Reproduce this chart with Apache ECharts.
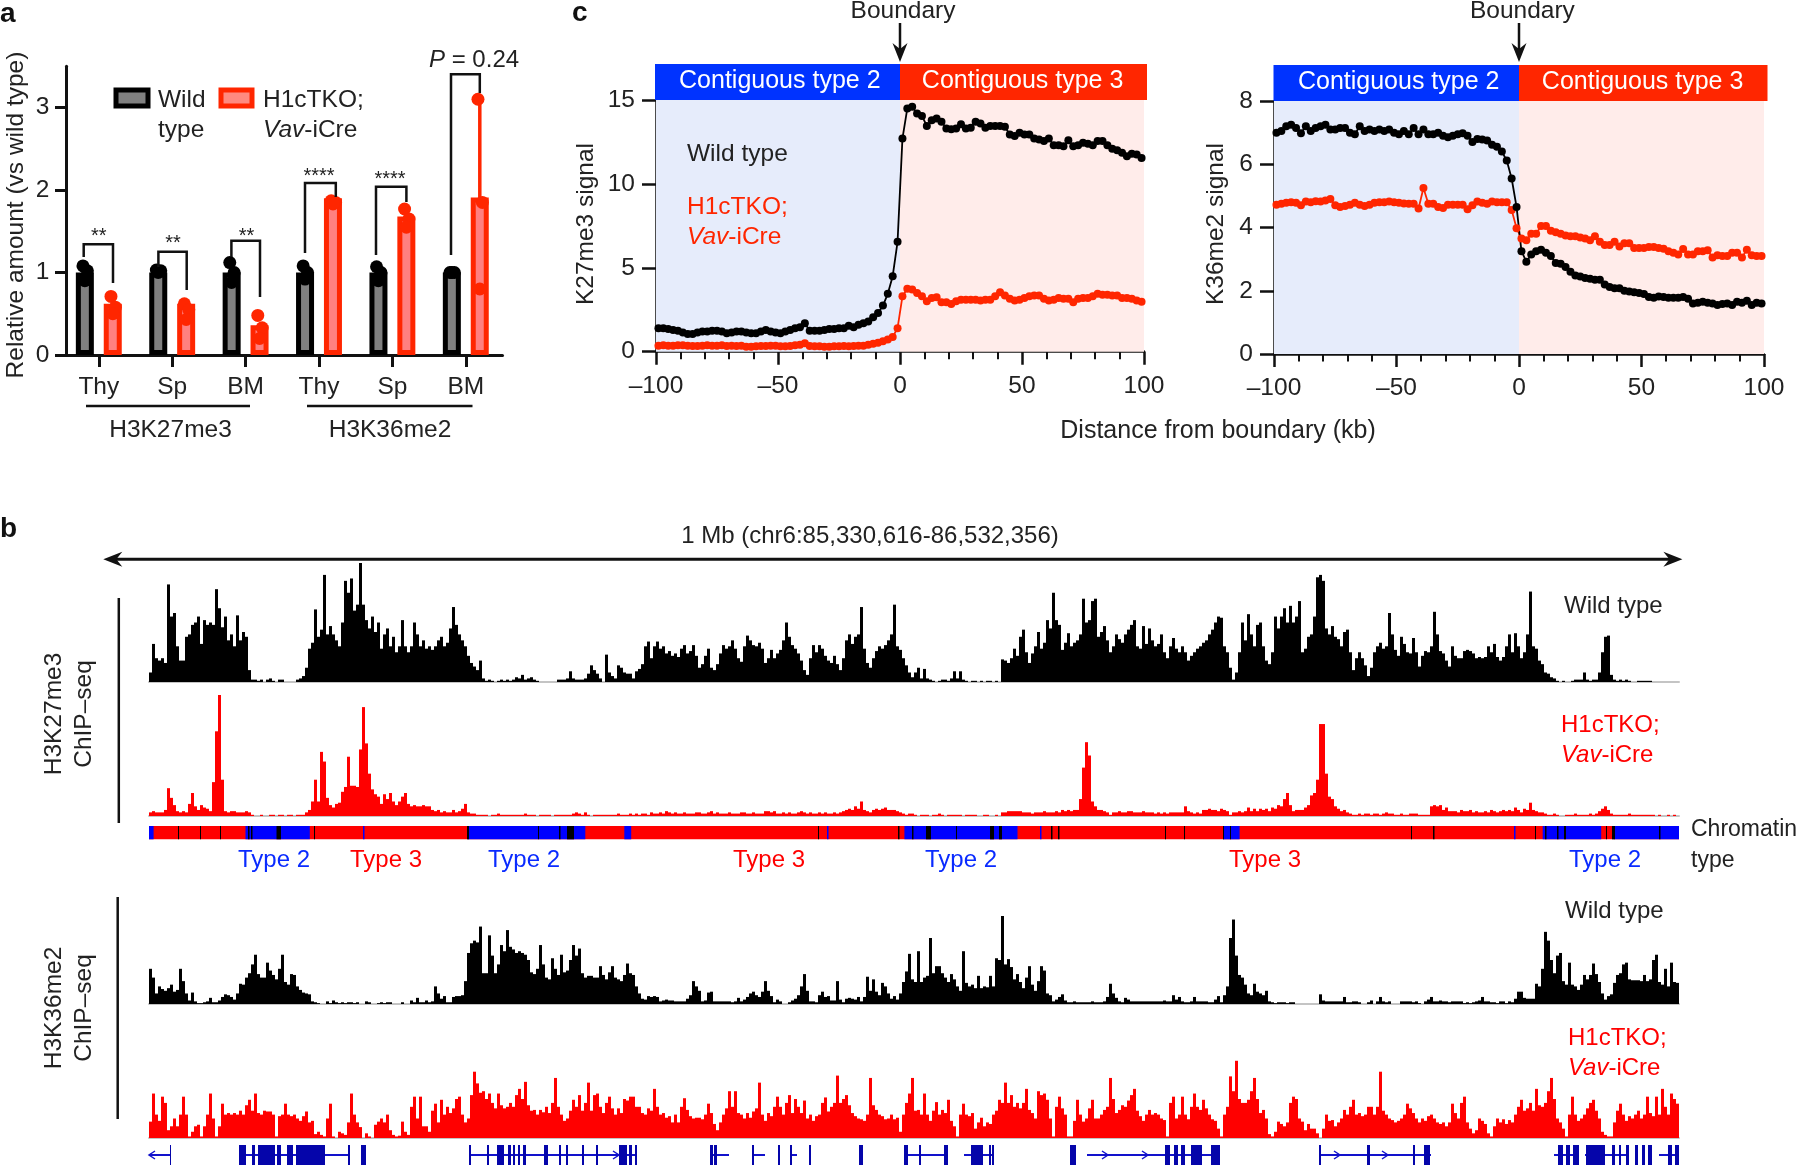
<!DOCTYPE html>
<html>
<head>
<meta charset="utf-8">
<style>
    html, body { margin: 0; padding: 0; background: #fff; }
    #main { width: 1800px; height: 1166px; }
</style>
<script src="https://cdn.jsdelivr.net/npm/echarts@6/dist/echarts.min.js"></script>
</head>
<body>
<div id="main"></div>
<script>
// panel a
var tissues = ['Thy', 'Sp', 'BM', 'Thy', 'Sp', 'BM'];
var wildMean = [1, 1, 1, 1, 1, 1];
var koMean = [0.62, 0.62, 0.36, 1.9, 1.68, 1.91];
var wildDots = [[1.08, 1.02, 0.9], [1.03, 1.02, 1.0], [1.12, 1.0, 0.88], [1.08, 1.0, 0.92], [1.07, 1.0, 0.9], [1.0, 1.0, 1.0]];
var koDots = [[0.71, 0.58, 0.5], [0.62, 0.55, 0.43], [0.48, 0.33, 0.2], [1.87, 1.85, 1.83], [1.77, 1.65, 1.55], [3.1, 1.85, 0.8]];

// panel c, bins every 2 kb
var k27Wild = [1.4,1.4,1.35,1.3,1.25,1.15,1.05,1.05,1.15,1.2,
    1.2,1.25,1.25,1.2,1.1,1.15,1.2,1.2,1.15,1.1,
    1.1,1.2,1.3,1.2,1.15,1.1,1.2,1.3,1.4,1.45,
    1.7,1.25,1.25,1.25,1.3,1.35,1.35,1.4,1.4,1.55,
    1.45,1.6,1.7,1.8,2.05,2.3,2.75,3.45,4.5,6.55,
    12.7,14.5,14.6,14.2,14.05,13.45,13.8,13.9,13.7,13.3,
    13.25,13.3,13.55,13.3,13.35,13.7,13.6,13.35,13.45,13.45,
    13.45,13.4,12.95,12.85,13.05,12.95,12.95,12.7,12.65,12.55,
    12.7,12.3,12.3,12.25,12.6,12.25,12.3,12.45,12.4,12.3,
    12.55,12.55,12.3,12.1,12,11.85,11.65,11.8,11.75,11.55];
var k27Ko = [.35,.38,.36,.36,.38,.38,.36,.34,.34,.36,
    .38,.36,.36,.38,.34,.36,.34,.36,.3,.3,
    .32,.34,.34,.36,.36,.32,.32,.34,.38,.42,
    .5,.34,.32,.32,.3,.3,.32,.32,.34,.32,
    .34,.36,.36,.42,.48,.54,.62,.72,.88,1.4,
    3.3,3.75,3.7,3.5,3.3,3.0,3.2,3.25,2.95,2.95,
    2.85,3.0,3.1,3.1,3.1,3.1,3.05,3.1,3.1,3.3,
    3.55,3.35,3.15,3.05,3.1,3.2,3.3,3.35,3.35,3.15,
    3.05,3.1,3.2,3.15,3.15,2.95,3.15,3.2,3.2,3.3,
    3.45,3.4,3.4,3.35,3.35,3.2,3.2,3.15,3.05,2.98];
var k36Wild = [7.0,7.05,7.2,7.25,7.15,6.98,7.2,7.05,7.15,7.2,
    7.25,7.1,7.1,7.15,7.15,7.0,6.95,7.2,7.05,7.1,
    7.05,7.1,7.05,7.1,7.0,6.95,7.05,6.95,7.15,6.95,
    7.1,6.95,6.95,7.0,6.9,6.85,6.9,6.95,6.98,6.9,
    6.7,6.8,6.78,6.75,6.62,6.55,6.4,6.12,5.55,4.65,
    3.25,2.92,3.15,3.25,3.3,3.2,3.1,2.88,2.85,2.75,
    2.6,2.48,2.45,2.4,2.38,2.35,2.35,2.2,2.12,2.08,
    2.08,2.0,1.98,1.95,1.93,1.9,1.8,1.78,1.82,1.8,
    1.78,1.78,1.78,1.8,1.75,1.6,1.62,1.65,1.62,1.6,
    1.55,1.58,1.6,1.55,1.65,1.62,1.68,1.55,1.62,1.6];
var k36Ko = [4.72,4.75,4.78,4.8,4.78,4.7,4.82,4.8,4.83,4.82,
    4.85,4.9,4.7,4.65,4.68,4.72,4.78,4.72,4.68,4.72,
    4.78,4.8,4.8,4.82,4.8,4.78,4.76,4.75,4.75,4.6,
    5.25,4.75,4.75,4.65,4.62,4.72,4.72,4.72,4.72,4.58,
    4.7,4.82,4.78,4.75,4.82,4.8,4.8,4.8,4.55,3.98,
    3.65,3.6,3.8,3.8,4.05,4.05,3.9,3.85,3.8,3.75,
    3.72,3.72,3.68,3.65,3.6,3.72,3.55,3.45,3.45,3.55,
    3.4,3.5,3.5,3.35,3.35,3.35,3.38,3.38,3.35,3.33,
    3.25,3.2,3.15,3.32,3.15,3.15,3.25,3.25,3.28,3.05,
    3.12,3.1,3.1,3.2,3.2,3.05,3.3,3.12,3.1,3.1];

// panel b, signal per 3 px bin, % of the track's tallest peak
var trackK27Wild = [8,32,20,18,20,16,82,55,58,30,18,18,38,40,48,50,55,32,52,48,
    50,48,78,62,46,55,35,40,30,56,35,42,38,10,2,2,1,2,0,2,3,1,0,2,2,0,0,0,0,2,
    3,5,12,28,33,61,38,44,90,40,47,40,35,30,50,85,75,87,60,65,100,65,52,45,55,42,50,28,40,45,
    30,38,25,30,52,30,25,30,50,40,30,35,28,30,27,30,35,38,30,33,45,63,48,40,35,30,22,16,13,10,
    18,3,1,2,1,0,1,2,1,2,1,2,4,3,6,2,3,4,2,1,0,0,0,0,0,0,2,2,2,3,9,3,2,2,2,3,7,14,10,7,
    3,0,23,8,5,3,14,12,8,7,7,3,9,11,15,30,34,20,30,34,28,30,24,26,22,24,21,28,31,24,
    26,31,22,12,15,22,28,12,10,15,24,31,28,30,35,28,20,17,30,39,35,31,30,33,28,16,20,27,20,24,
    27,35,50,38,31,28,24,18,10,6,20,31,25,31,28,22,18,16,22,15,10,20,35,40,32,38,40,63,28,16,
    12,20,26,30,28,31,35,40,65,30,
    27,20,14,8,4,8,12,3,11,3,2,1,0,1,2,2,1,3,9,3,9,2,1,0,1,1,0,1,0,1,1,0,1,0,19,18,16,20,28,22,
    38,44,25,16,24,30,42,28,33,52,45,75,52,48,27,33,41,30,33,35,40,70,50,52,68,70,38,42,47,35,
    25,30,40,36,33,40,44,48,52,30,28,47,32,45,35,30,32,40,25,20,30,37,28,25,30,25,18,22,25,28,
    30,33,35,40,44,50,55,54,30,25,12,2,8,25,50,35,57,40,30,48,50,30,18,15,25,55,45,55,62,50,
    64,50,55,68,25,28,38,40,55,88,90,85,45,40,47,38,36,30,42,44,25,10,20,25,20,14,5,12,25,30,
    33,28,30,58,40,27,22,38,32,25,24,37,25,13,22,26,25,30,59,40,26,24,18,13,30,22,20,20,26,27,
    26,24,20,21,20,21,30,25,32,21,18,21,30,40,25,41,30,20,25,40,76,30,28,18,15,8,7,4,3,1,
    0,1,0,0,1,2,2,2,8,2,1,2,2,8,25,38,39,6,2,1,2,1,2,1,0,0,1,1,1,1,1,0,0,0,0,0,0,0,0,0];
var trackK27Ko = [3,4,3,3,3,5,23,15,9,4,3,4,3,10,19,8,5,9,7,6,4,28,70,100,30,4,3,4,4,3,
    3,3,4,3,1,0,0,1,0,0,1,1,0,1,1,0,1,1,0,1,1,1,3,5,12,30,12,53,45,15,9,7,10,11,20,24,49,25,25,24,
    55,90,60,35,22,18,16,10,18,14,19,12,9,12,16,19,10,8,9,8,8,9,8,8,5,4,5,3,4,3,
    3,5,3,4,6,10,3,2,2,1,1,1,1,0,1,1,2,1,1,1,1,1,1,1,1,2,1,1,1,0,1,1,1,1,0,1,1,1,1,1,
    1,2,3,2,1,3,1,0,1,1,1,1,1,1,1,1,2,1,1,1,2,1,2,1,2,2,1,3,2,2,3,2,4,3,2,3,2,2,3,2,
    2,2,3,3,2,2,3,4,2,3,2,2,2,3,2,2,2,3,3,2,2,3,2,2,2,4,4,3,4,2,2,3,2,3,2,2,3,4,3,2,
    3,2,2,3,2,3,2,2,3,2,3,4,5,6,5,8,6,12,5,4,3,5,6,5,6,7,5,5,5,4,
    3,2,1,2,2,1,0,1,1,1,0,1,1,2,1,0,1,1,1,1,1,0,1,1,1,1,0,0,1,1,0,0,1,0,3,3,4,4,4,4,
    4,3,3,3,2,3,3,3,4,3,3,3,4,3,5,4,5,4,5,5,14,40,61,50,12,8,5,5,4,3,1,3,3,4,3,3,4,4,3,3,
    3,4,3,3,3,2,3,2,3,2,3,3,3,3,3,8,4,3,2,3,2,5,5,6,5,5,4,6,5,4,1,3,3,4,3,4,7,4,6,4,
    6,5,6,4,7,6,9,8,14,19,9,4,5,5,5,7,9,17,19,30,76,76,35,16,14,8,6,4,5,3,2,1,1,2,1,2,2,1,2,2,
    1,2,3,2,2,1,1,2,1,1,2,2,2,1,1,1,1,8,9,8,9,5,7,4,4,4,3,5,4,4,5,3,4,3,3,4,3,5,4,3,
    4,5,4,5,4,7,5,3,6,5,11,5,4,3,3,2,1,1,2,1,0,0,1,1,1,2,1,1,1,1,2,1,2,4,6,8,5,2,1,1,
    1,1,1,2,1,1,1,1,1,1,1,1,0,1,0,0,1,0,1,0];
var trackK36Wild = [40,30,12,20,17,15,18,22,14,16,40,26,12,4,13,3,1,1,2,3,7,2,2,4,8,11,10,8,5,12,
    23,22,30,35,45,56,34,30,30,47,38,33,28,40,56,25,22,34,33,20,16,13,12,11,3,2,1,0,0,3,
    1,4,2,1,2,1,2,2,1,2,0,0,3,2,0,0,1,2,1,2,2,0,0,0,2,0,0,4,2,7,2,2,4,2,3,20,12,6,9,2,
    2,8,9,9,10,26,58,69,72,70,88,35,35,78,55,35,45,67,60,84,65,62,58,60,58,56,50,36,34,40,
    67,45,30,28,52,40,33,56,36,38,50,67,55,63,35,30,32,32,30,30,43,33,28,36,43,30,28,26,33,46,
    35,33,20,12,6,5,9,8,9,8,3,4,5,4,4,3,3,3,3,6,10,26,20,15,3,4,13,14,3,3,3,3,3,3,2,3,7,3,5,8,
    12,14,10,8,14,26,15,9,2,5,3,0,0,2,4,6,10,20,34,15,3,3,2,10,14,8,9,4,4,26,5,2,6,7,6,5,8,3,8,31,
    15,28,14,10,24,20,12,6,9,5,
    12,25,37,57,28,25,60,25,30,32,75,35,43,43,35,30,25,34,28,20,15,60,24,20,22,18,32,18,20,19,
    32,20,52,50,100,45,51,42,28,34,25,18,30,43,22,15,26,43,38,12,10,3,5,8,11,4,2,2,3,2,
    2,2,2,2,3,2,2,2,3,8,23,12,7,3,2,7,5,3,3,3,3,3,3,3,3,3,3,3,4,3,3,10,5,8,3,2,2,3,8,3,
    3,3,3,2,2,5,9,2,10,20,75,96,55,33,30,22,12,10,23,14,12,10,15,3,2,1,2,2,2,1,2,2,0,0,0,0,0,0,0,0,
    11,4,3,3,3,3,3,3,8,2,2,3,3,2,0,0,2,4,0,3,8,3,2,3,0,0,0,3,3,3,3,2,3,1,0,3,5,8,3,3,
    4,3,3,2,3,3,3,3,1,2,1,2,3,4,8,3,3,2,2,1,3,3,1,3,2,6,14,14,7,6,6,6,23,20,40,82,72,50,35,55,
    58,26,22,47,22,20,16,22,33,28,33,46,34,25,12,5,9,11,24,33,35,45,47,28,27,27,27,26,33,26,
    28,50,56,25,22,40,20,47,25,24];
var trackK36Ko = [21,57,30,22,53,45,10,15,25,15,30,53,30,2,8,15,17,2,15,30,57,25,2,15,44,30,32,30,32,30,
    35,30,42,49,35,57,32,30,35,34,34,30,2,28,30,44,30,28,30,25,22,28,34,20,22,5,8,4,2,25,
    44,2,0,8,6,4,20,57,30,20,14,0,6,2,0,17,21,25,20,30,10,4,2,3,21,8,4,40,53,25,
    53,15,15,8,35,44,20,49,30,40,32,38,50,53,30,20,25,55,85,70,58,60,50,57,45,38,57,42,38,40,
    45,40,55,63,50,72,42,35,36,30,36,33,40,32,45,77,40,30,22,25,35,49,40,55,35,45,71,35,55,57,
    40,32,45,53,38,30,38,32,50,48,53,53,40,40,32,30,38,35,63,40,30,32,26,28,20,30,20,40,51,36,
    28,25,26,26,24,30,44,32,18,10,20,30,38,60,40,60,32,30,25,32,26,34,38,71,30,22,32,28,40,53,
    40,30,45,55,32,50,40,32,48,25,30,22,28,30,45,52,34,40,45,80,45,50,55,42,32,28,25,24,22,30,
    77,42,36,30,28,24,25,30,24,26,
    8,30,45,57,77,35,36,30,57,30,22,35,46,30,36,32,49,22,15,2,30,44,30,28,32,12,20,26,15,20,
    18,30,35,49,45,71,45,55,40,45,38,45,63,36,32,25,60,55,57,49,25,2,40,53,38,30,2,2,22,49,
    30,21,25,38,49,25,25,30,36,40,77,50,32,36,42,40,48,55,63,35,28,22,30,36,30,32,30,25,23,2,
    45,53,25,30,53,30,24,40,57,40,36,49,38,30,24,22,12,2,30,40,79,60,99,50,45,45,49,60,77,50,
    32,36,25,5,2,8,21,18,15,20,45,53,50,25,21,10,18,12,12,6,0,12,30,22,23,15,20,25,36,30,
    40,49,30,32,28,30,40,40,30,40,85,35,30,25,23,20,22,25,30,44,38,32,25,20,25,22,28,30,25,20,
    18,20,15,20,44,32,25,45,53,20,12,6,10,25,22,18,6,2,15,25,20,24,18,23,20,30,40,49,35,38,
    45,35,63,42,40,45,60,77,50,25,20,12,2,30,53,30,22,25,30,38,45,49,35,25,8,4,2,2,20,35,
    44,30,22,28,25,30,35,25,30,53,32,28,53,30,63,40,30,57,50,44];

// chromatin type segments [from, to, type], position along the 1530 px wide track, 0 = no type
var chromSegments = [
    [0, 1530, 3],
    [0, 4.6, 2], [96.5, 160.8, 2], [318.6, 436.3, 2], [475.3, 482.2, 2], [755.4, 868.5, 2], [1074, 1090.6, 2], [1393.7, 1452.2, 2], [1465.4, 1530, 2],
    [214, 215.5, 2], [678, 679.5, 2], [891, 892.5, 2], [1365, 1366.5, 2],
    [29, 30, 0], [51, 52, 0], [71, 72, 0], [99, 100.5, 0], [102, 103.5, 0], [127.5, 132, 0], [165, 166, 0], [318, 320, 0],
    [389, 390, 0], [410, 411.5, 0], [418, 425, 0], [669, 670, 0], [749, 750.5, 0], [763, 764.5, 0], [777, 782, 0], [807, 808, 0],
    [841, 845, 0], [850, 853, 0], [902, 903.5, 0], [909, 910.5, 0], [1016, 1017, 0], [1035, 1036, 0], [1074, 1075, 0], [1081, 1082, 0],
    [1262, 1263, 0], [1284, 1285.5, 0], [1386, 1387, 0], [1396, 1397.5, 0], [1408, 1409.5, 0], [1415, 1417, 0], [1457, 1458, 0], [1463, 1466, 0], [1510, 1511.5, 0]
];
// gene models, same position scale
var geneLines = [[0, 21], [90, 200], [320, 487], [561, 580], [604, 616], [642, 648], [759, 797], [815, 845], [938, 1018], [1020, 1070], [1170, 1282], [1405, 1429], [1436, 1480], [1510, 1530]];
var geneExons = [[21, 22], [90, 97], [103, 106], [109, 120], [120, 126], [128, 132], [138, 144], [147, 163], [163, 176], [199, 201], [212, 217],
    [320, 322], [338, 340], [348, 355], [359, 362], [364, 366], [369, 371], [374, 377], [395, 399], [410, 412], [417, 419], [433, 435], [447, 449], [470, 478], [480, 483], [486, 488],
    [561, 564], [565, 568], [603, 605], [629, 631], [641, 643], [660, 662], [710, 714],
    [755, 759], [770, 772], [795, 799], [822, 834], [840, 842], [843, 845], [921, 927],
    [1016, 1021], [1025, 1029], [1032, 1036], [1042, 1053], [1062, 1071],
    [1170, 1172], [1218, 1221], [1264, 1266], [1275, 1281],
    [1409, 1414], [1417, 1421], [1424, 1430], [1437, 1443], [1443, 1456], [1463, 1466], [1470, 1472], [1477, 1480], [1486, 1489], [1493, 1496], [1499, 1503], [1519, 1523], [1526, 1530]];
var geneArrows = [[3, -1], [467, 1], [956, 1], [996, 1], [1188, 1], [1236, 1]];

var sans = '"Liberation Sans", Arial, sans-serif';
var textColor = '#222';
var red = '#ff2600';
var fontSize = 24.5;
var kbBins = [];
for (var b = 0; b < k27Wild.length; b++) {
    kbBins.push(-99 + 2 * b);
}

function zip(xs, ys) {
    return ys.map(function (y, i) { return [xs[i], y]; });
}

// text helper, rich tag i is for the italic parts
function label(text, x, y, opt) {
    opt = opt || {};
    // glyphs sit a bit high with middle align, push them down
    var nudge = opt.nudge === undefined ? 2.5 : opt.nudge;
    return {
        type: 'text',
        x: opt.rotation ? x + nudge : x,
        y: opt.rotation ? y : y + nudge,
        z: 100,
        rotation: opt.rotation || 0,
        silent: true,
        style: {
            text: text,
            fontFamily: sans,
            fontSize: opt.size || fontSize,
            fontWeight: opt.weight || 'normal',
            fill: opt.color || textColor,
            align: opt.align || 'left',
            verticalAlign: 'middle',
            rich: {
                i: { fontFamily: sans, fontSize: opt.size || fontSize, fontStyle: 'italic', fill: opt.color || textColor }
            }
        }
    };
}

function poly(points, width, color) {
    return {
        type: 'polyline',
        z: 100,
        silent: true,
        shape: { points: points },
        style: { stroke: color || '#111', lineWidth: width || 2.5, fill: null }
    };
}

function box(x, y, w, h, fill, stroke, lineWidth) {
    return {
        type: 'rect',
        z: 100,
        silent: true,
        shape: { x: x, y: y, width: w, height: h },
        style: { fill: fill, stroke: stroke || null, lineWidth: lineWidth || 0 }
    };
}

function arrowHead(tipX, tipY, dx, dy) {
    // filled head, dx/dy is the direction it points
    var px = -dy, py = dx;
    return {
        type: 'polygon',
        z: 100,
        silent: true,
        shape: {
            points: [
                [tipX, tipY],
                [tipX - dx * 19 + px * 7.5, tipY - dy * 19 + py * 7.5],
                [tipX - dx * 13, tipY - dy * 13],
                [tipX - dx * 19 - px * 7.5, tipY - dy * 19 - py * 7.5]
            ]
        },
        style: { fill: '#111' }
    };
}

var graphics = [];

// panel letters
graphics.push(label('a', 0, 14, { size: 28, weight: 'bold', color: '#111', nudge: 0 }));
graphics.push(label('b', 0, 529, { size: 28, weight: 'bold', color: '#111', nudge: 0 }));
graphics.push(label('c', 572, 13, { size: 28, weight: 'bold', color: '#111', nudge: 0 }));

// panel a annotations
graphics.push(label('Relative amount (vs wild type)', 14, 215, { rotation: Math.PI / 2, align: 'center' }));
graphics.push(box(116, 90, 32, 16, '#808080', '#000', 5));
graphics.push(box(221, 90, 31, 16, '#ff8a80', red, 5));
graphics.push(label('Wild', 158, 98));
graphics.push(label('type', 158, 128));
graphics.push(label('H1cTKO;', 263, 98));
graphics.push(label('{i|Vav}-iCre', 263, 128));
graphics.push(label('{i|P} = 0.24', 429, 58, { size: 24 }));
[[83.7, 257, 244.3, 113, 283, '**', 98.8, 236],
 [158.4, 267, 251.7, 186.7, 290, '**', 173, 243],
 [231.4, 257, 240.7, 260, 297, '**', 246.6, 236],
 [305, 253, 183, 335.8, 197, '****', 319, 176],
 [376, 255, 186.7, 406.4, 202, '****', 390, 179]].forEach(function (br) {
    graphics.push(poly([[br[0], br[1]], [br[0], br[2]], [br[3], br[2]], [br[3], br[4]]], 2.5));
    graphics.push(label(br[5], br[6], br[7], { size: 20, align: 'center', nudge: 0 }));
});
graphics.push(poly([[451, 255], [451, 74.3], [479.8, 74.3], [479.8, 93]], 2.5));
graphics.push(poly([[86, 406], [250, 406]], 2.5));
graphics.push(poly([[307, 406], [472.5, 406]], 2.5));
graphics.push(label('H3K27me3', 170.5, 428, { align: 'center' }));
graphics.push(label('H3K36me2', 390, 428, { align: 'center' }));

// panel c headers
[[655, 900, 1147, 64, 36, 779.8, 1022.6], [1273.5, 1519, 1767.5, 65, 36, 1398.7, 1642.6]].forEach(function (h) {
    graphics.push(box(h[0], h[3], h[1] - h[0], h[4], '#0033ff'));
    graphics.push(box(h[1], h[3], h[2] - h[1], h[4], red));
    graphics.push(label('Contiguous type 2', h[5], h[3] + 15, { align: 'center', color: '#fff', size: 25 }));
    graphics.push(label('Contiguous type 3', h[6], h[3] + 15, { align: 'center', color: '#fff', size: 25 }));
});
[[900, 903], [1519, 1522.4]].forEach(function (a) {
    graphics.push(poly([[a[0], 23], [a[0], 50]], 2.5));
    graphics.push(arrowHead(a[0], 62, 0, 1));
    graphics.push(label('Boundary', a[1], 9, { align: 'center' }));
});
graphics.push(label('K27me3 signal', 584, 224, { rotation: Math.PI / 2, align: 'center' }));
graphics.push(label('K36me2 signal', 1214, 224, { rotation: Math.PI / 2, align: 'center' }));
graphics.push(label('Wild type', 687, 152));
graphics.push(label('H1cTKO;', 687, 205, { color: red }));
graphics.push(label('{i|Vav}-iCre', 687, 235, { color: red }));
graphics.push(label('Distance from boundary (kb)', 1218, 429, { align: 'center', size: 25 }));

// panel b annotations
graphics.push(label('1 Mb (chr6:85,330,616-86,532,356)', 870, 534, { align: 'center', size: 24 }));
graphics.push(poly([[115, 559.3], [1670, 559.3]], 3));
graphics.push(arrowHead(103.3, 559.3, -1, 0));
graphics.push(arrowHead(1682.4, 559.3, 1, 0));
graphics.push(poly([[118.8, 598], [118.8, 823]], 2.5));
graphics.push(poly([[117.7, 897], [117.7, 1119]], 2.5));
graphics.push(label('H3K27me3', 52, 714, { rotation: Math.PI / 2, align: 'center' }));
graphics.push(label('ChIP\u2013seq', 82, 714, { rotation: Math.PI / 2, align: 'center' }));
graphics.push(label('H3K36me2', 52, 1008, { rotation: Math.PI / 2, align: 'center' }));
graphics.push(label('ChIP\u2013seq', 82, 1008, { rotation: Math.PI / 2, align: 'center' }));
graphics.push(label('Wild type', 1564, 604, { size: 24 }));
graphics.push(label('H1cTKO;', 1561, 723, { color: '#ff0000', size: 24 }));
graphics.push(label('{i|Vav}-iCre', 1561, 753, { color: '#ff0000', size: 24 }));
graphics.push(label('Chromatin', 1691, 827, { size: 23 }));
graphics.push(label('type', 1691, 858, { size: 23 }));
graphics.push(label('Wild type', 1565, 909, { size: 24 }));
graphics.push(label('H1cTKO;', 1568, 1036, { color: '#ff0000', size: 24 }));
graphics.push(label('{i|Vav}-iCre', 1568, 1066, { color: '#ff0000', size: 24 }));
[['Type 2', 274, '#0a2bff'], ['Type 3', 386, '#ff0000'], ['Type 2', 524, '#0a2bff'], ['Type 3', 769, '#ff0000'],
 ['Type 2', 961, '#0a2bff'], ['Type 3', 1265, '#ff0000'], ['Type 2', 1605, '#0a2bff']].forEach(function (t) {
    graphics.push(label(t[0], t[1], 858, { align: 'center', color: t[2], size: 24 }));
});

var grids = [
    { left: 62.1, top: 66.25, width: 440.4, height: 288.75 },
    { left: 656, top: 100, width: 488, height: 251.7 },
    { left: 1274, top: 101, width: 490, height: 253 },
    { left: 149, top: 563, width: 1530, height: 119 },
    { left: 149, top: 695, width: 1530, height: 121 },
    { left: 149, top: 916, width: 1530, height: 88 },
    { left: 149, top: 1060, width: 1530, height: 78 },
    { left: 149, top: 826, width: 1530, height: 13.3 },
    { left: 149, top: 1145, width: 1530, height: 20 }
];

function kbAxis(gridIndex) {
    return {
        gridIndex: gridIndex,
        type: 'value',
        min: -100,
        max: 100,
        interval: 50,
        axisLine: { show: true, onZero: false, lineStyle: { color: '#111', width: 2.5 } },
        axisTick: { show: true, length: 13, lineStyle: { color: '#111', width: 2.5 } },
        minorTick: { show: true, splitNumber: 5, length: 7.5, lineStyle: { color: '#111', width: 2 } },
        splitLine: { show: false },
        minorSplitLine: { show: false },
        axisLabel: {
            margin: 22,
            fontFamily: sans,
            fontSize: fontSize,
            color: textColor,
            formatter: function (v) { return String(v).replace('-', '\u2013'); }
        }
    };
}

function signalAxis(gridIndex, max, interval) {
    return {
        gridIndex: gridIndex,
        type: 'value',
        min: 0,
        max: max,
        interval: interval,
        axisLine: { show: true, onZero: false, lineStyle: { color: '#111', width: 2.5 } },
        axisTick: { show: true, length: 14, lineStyle: { color: '#111', width: 2.5 } },
        splitLine: { show: false },
        axisLabel: { margin: 21, padding: [6, 0, 0, 0], fontFamily: sans, fontSize: fontSize, color: textColor }
    };
}

function plainX(gridIndex) {
    return { gridIndex: gridIndex, type: 'value', min: 0, max: 1530, show: false };
}

function plainY(gridIndex) {
    return { gridIndex: gridIndex, type: 'value', min: 0, max: 1, show: false };
}

function trackX(gridIndex) {
    var bins = [];
    for (var n = 0; n < 510; n++) bins.push(n);
    return {
        gridIndex: gridIndex,
        type: 'category',
        data: bins,
        axisLine: { show: true, lineStyle: { color: '#c4c4c4', width: 2 } },
        axisTick: { show: false },
        axisLabel: { show: false }
    };
}

function trackY(gridIndex) {
    return { gridIndex: gridIndex, type: 'value', min: 0, max: 100, show: false };
}

function trackSeries(axisIndex, values, color) {
    return {
        type: 'bar',
        xAxisIndex: axisIndex,
        yAxisIndex: axisIndex - 1,
        data: values,
        barWidth: '100%',
        barCategoryGap: 0,
        itemStyle: { color: color },
        silent: true
    };
}

function shade(max) {
    return {
        silent: true,
        data: [
            [{ xAxis: -100, yAxis: 0, itemStyle: { color: '#e6ecfb' } }, { xAxis: 0, yAxis: max }],
            [{ xAxis: 0, yAxis: 0, itemStyle: { color: '#ffecea' } }, { xAxis: 100, yAxis: max }]
        ]
    };
}

function curve(axisIndex, yIndex, values, color, area) {
    var s = {
        type: 'line',
        xAxisIndex: axisIndex,
        yAxisIndex: yIndex,
        data: zip(kbBins, values),
        symbol: 'circle',
        symbolSize: 8,
        showSymbol: true,
        lineStyle: { color: color, width: 1.8 },
        itemStyle: { color: color },
        clip: false,
        silent: true
    };
    if (area) s.markArea = area;
    return s;
}

// dots and error bar in a sit on a hidden value axis, one unit per tissue
var barShift = 14 / 73.4;
var dotJitter = [-0.025, 0.035, 0];
var dotsWild = [], dotsKo = [];
tissues.forEach(function (t, i) {
    for (var d = 0; d < 3; d++) {
        dotsWild.push([i + 0.5 - barShift + dotJitter[d], wildDots[i][d]]);
        dotsKo.push([i + 0.5 + barShift + dotJitter[d], koDots[i][d]]);
    }
});

var option = {
    animation: false,
    backgroundColor: '#fff',
    textStyle: { fontFamily: sans },
    graphic: { elements: graphics },
    grid: grids,
    xAxis: [
        {
            gridIndex: 0,
            type: 'category',
            data: tissues,
            axisLine: { show: true, lineStyle: { color: '#111', width: 3 } },
            axisTick: { show: true, alignWithLabel: true, length: 12, lineStyle: { color: '#111', width: 3 } },
            axisLabel: { margin: 20, fontFamily: sans, fontSize: fontSize, color: textColor, interval: 0 }
        },
        { gridIndex: 0, type: 'value', min: 0, max: 6, show: false },
        kbAxis(1),
        kbAxis(2),
        trackX(3),
        trackX(4),
        trackX(5),
        trackX(6),
        plainX(7),
        plainX(8)
    ],
    yAxis: [
        {
            gridIndex: 0,
            type: 'value',
            min: 0,
            max: 3.5,
            offset: -4.4,
            axisLine: { show: true, lineStyle: { color: '#111', width: 3 } },
            axisTick: { show: true, length: 11.5, customValues: [0, 1, 2, 3], lineStyle: { color: '#111', width: 3 } },
            splitLine: { show: false },
            axisLabel: { margin: 17, padding: [3, 0, 0, 0], fontFamily: sans, fontSize: fontSize, color: textColor, customValues: [0, 1, 2, 3] }
        },
        signalAxis(1, 15, 5),
        signalAxis(2, 8, 2),
        trackY(3),
        trackY(4),
        trackY(5),
        trackY(6),
        plainY(7),
        plainY(8)
    ],
    series: [
        {
            type: 'bar',
            xAxisIndex: 0,
            yAxisIndex: 0,
            data: wildMean,
            barWidth: 18,
            barGap: '55%',
            itemStyle: { color: '#808080', borderColor: '#000', borderWidth: 5 },
            silent: true
        },
        {
            type: 'bar',
            xAxisIndex: 0,
            yAxisIndex: 0,
            data: koMean,
            barWidth: 18,
            barGap: '55%',
            itemStyle: { color: '#ff8080', borderColor: red, borderWidth: 5 },
            silent: true
        },
        {
            // error bar of the last red bar
            type: 'custom',
            xAxisIndex: 1,
            yAxisIndex: 0,
            data: [[5.5 + barShift, 0.8, 3.1]],
            silent: true,
            renderItem: function (params, api) {
                var lo = api.coord([api.value(0), api.value(1)]);
                var hi = api.coord([api.value(0), api.value(2)]);
                return {
                    type: 'group',
                    children: [
                        { type: 'line', shape: { x1: lo[0], y1: lo[1], x2: hi[0], y2: hi[1] }, style: { stroke: red, lineWidth: 3.5 } },
                        { type: 'line', shape: { x1: lo[0] - 8, y1: lo[1], x2: lo[0] + 8, y2: lo[1] }, style: { stroke: red, lineWidth: 8 } }
                    ]
                };
            }
        },
        {
            type: 'scatter',
            xAxisIndex: 1,
            yAxisIndex: 0,
            data: dotsWild,
            symbolSize: 13,
            itemStyle: { color: '#000', opacity: 1 },
            silent: true
        },
        {
            type: 'scatter',
            xAxisIndex: 1,
            yAxisIndex: 0,
            data: dotsKo,
            symbolSize: 13,
            itemStyle: { color: red, opacity: 1 },
            silent: true
        },
        curve(2, 1, k27Wild, '#000', shade(15)),
        curve(2, 1, k27Ko, red),
        curve(3, 2, k36Ko, red, shade(8)),
        curve(3, 2, k36Wild, '#000'),
        trackSeries(4, trackK27Wild, '#000'),
        trackSeries(5, trackK27Ko, '#ff0000'),
        trackSeries(6, trackK36Wild, '#000'),
        trackSeries(7, trackK36Ko, '#ff0000'),
        {
            type: 'custom',
            xAxisIndex: 8,
            yAxisIndex: 7,
            data: chromSegments,
            silent: true,
            renderItem: function (params, api) {
                var a = api.coord([api.value(0), 1]);
                var z = api.coord([api.value(1), 0]);
                var colors = { 0: '#000', 2: '#0000ff', 3: '#ff0000' };
                return {
                    type: 'rect',
                    shape: { x: a[0], y: a[1], width: z[0] - a[0], height: z[1] - a[1] },
                    style: { fill: colors[api.value(2)] }
                };
            }
        },
        {
            type: 'custom',
            xAxisIndex: 9,
            yAxisIndex: 8,
            data: geneLines,
            silent: true,
            renderItem: function (params, api) {
                var a = api.coord([api.value(0), 0.5]);
                var z = api.coord([api.value(1), 0.5]);
                return { type: 'line', shape: { x1: a[0], y1: a[1], x2: z[0], y2: z[1] }, style: { stroke: '#1212cc', lineWidth: 2 } };
            }
        },
        {
            type: 'custom',
            xAxisIndex: 9,
            yAxisIndex: 8,
            data: geneExons,
            silent: true,
            renderItem: function (params, api) {
                var a = api.coord([api.value(0), 1]);
                var z = api.coord([api.value(1), 0]);
                return { type: 'rect', shape: { x: a[0], y: a[1], width: z[0] - a[0], height: z[1] - a[1] }, style: { fill: '#0505aa' } };
            }
        },
        {
            type: 'custom',
            xAxisIndex: 9,
            yAxisIndex: 8,
            data: geneArrows,
            silent: true,
            renderItem: function (params, api) {
                var p = api.coord([api.value(0), 0.5]);
                var d = api.value(1) * 3;
                return {
                    type: 'polyline',
                    shape: { points: [[p[0] - d, p[1] - 4], [p[0] + d, p[1]], [p[0] - d, p[1] + 4]] },
                    style: { stroke: '#1212cc', lineWidth: 1.5, fill: null }
                };
            }
        }
    ]
};

var myChart = echarts.init(document.getElementById('main'));
myChart.setOption(option);
</script>
</body>
</html>
